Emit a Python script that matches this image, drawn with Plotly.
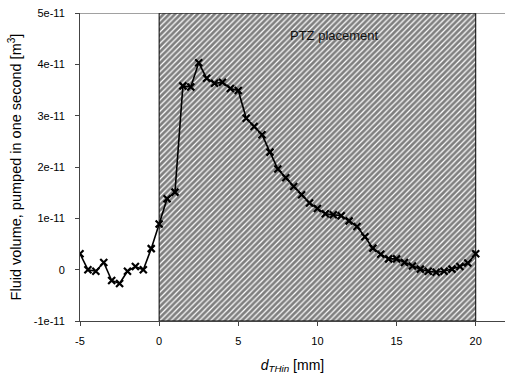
import plotly.graph_objects as go

# data
x_mm = [-5, -4.5, -4, -3.5, -3, -2.5, -2, -1.5, -1, -0.5,
        0, 0.5, 1, 1.5, 2, 2.5, 3, 3.5, 4, 4.5,
        5, 5.5, 6, 6.5, 7, 7.5, 8, 8.5, 9, 9.5,
        10, 10.5, 11, 11.5, 12, 12.5, 13, 13.5, 14, 14.5,
        15, 15.5, 16, 16.5, 17, 17.5, 18, 18.5, 19, 19.5, 20]
vol_e11 = [0.31, 0.0, -0.03, 0.14, -0.21, -0.27, -0.03, 0.06, 0.0, 0.41,
           0.89, 1.38, 1.51, 3.58, 3.56, 4.03, 3.73, 3.63, 3.65, 3.53,
           3.49, 2.95, 2.79, 2.63, 2.29, 1.96, 1.79, 1.62, 1.46, 1.30,
           1.19, 1.09, 1.07, 1.05, 0.95, 0.84, 0.64, 0.42, 0.30, 0.21,
           0.21, 0.14, 0.07, 0.01, -0.03, -0.05, -0.03, 0.01, 0.06, 0.13, 0.31]
vol = [v * 1e-11 for v in vol_e11]

ptz_start = 0
ptz_end = 20
ptz_label = "PTZ placement"

y_ticks = [-1e-11, 0, 1e-11, 2e-11, 3e-11, 4e-11, 5e-11]
y_ticktext = ["-1e-11", "0", "1e-11", "2e-11", "3e-11", "4e-11", "5e-11"]
x_ticks = [-5, 0, 5, 10, 15, 20]
x_ticktext = ["-5", "0", "5", "10", "15", "20"]

y_min, y_max = -1e-11, 5e-11
x_min, x_max = -5, 21.85

FONT = "Liberation Sans, Arial, sans-serif"

fig = go.Figure()

fig.add_trace(go.Scatter(
    x=[ptz_start, ptz_end, ptz_end, ptz_start, ptz_start],
    y=[y_min, y_min, y_max, y_max, y_min],
    mode="lines", fill="toself",
    fillcolor="white",
    fillpattern=dict(shape="/", size=4, solidity=0.7, fgcolor="black", bgcolor="white"),
    line=dict(color="black", width=1),
    hoverinfo="skip", showlegend=False,
))

fig.add_trace(go.Scatter(
    x=x_mm, y=vol, mode="lines+markers",
    line=dict(color="black", width=1.6),
    marker=dict(symbol="x-thin", size=7, line=dict(color="black", width=2.2), color="black"),
    showlegend=False,
))

fig.add_annotation(x=11.1, y=4.57e-11, text=ptz_label, showarrow=False,
                   font=dict(family=FONT, size=13, color="#111"))

# top border line
fig.add_shape(type="line", xref="paper", yref="y", x0=0, x1=1, y0=y_max, y1=y_max,
              line=dict(color="#444", width=1))

fig.update_layout(
    width=505, height=377,
    margin=dict(l=80, r=0, t=13, b=56),
    plot_bgcolor="white", paper_bgcolor="white",
    font=dict(family=FONT, size=11, color="black"),
    xaxis=dict(range=[x_min, x_max], tickvals=x_ticks, ticktext=x_ticktext,
               showgrid=False, zeroline=False, showline=True, linecolor="#444", linewidth=1,
               ticks="outside", ticklen=4, tickcolor="#444", ticklabelstandoff=6,
               title=dict(text="<i>d<sub>THin</sub></i> [mm]", font=dict(size=14), standoff=13)),
    yaxis=dict(range=[y_min, y_max], tickvals=y_ticks, ticktext=y_ticktext,
               showgrid=False, zeroline=False, showline=True, linecolor="#444", linewidth=1,
               ticks="outside", ticklen=4, tickcolor="#444", ticklabelstandoff=8,
               title=dict(text="Fluid volume, pumped in one second [m<sup>3</sup>]",
                          font=dict(size=14.5), standoff=8)),
)

fig.write_html("out.html")
